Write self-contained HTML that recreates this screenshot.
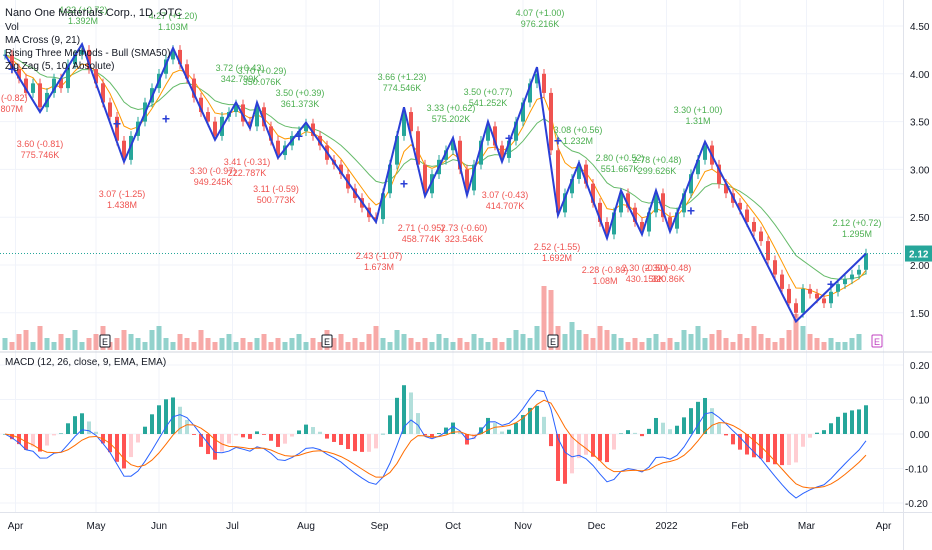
<!DOCTYPE html>
<html><head><meta charset="utf-8">
<style>
html,body{margin:0;padding:0;background:#fff;}
#wrap{position:relative;width:932px;height:550px;overflow:hidden;font-family:"Liberation Sans",sans-serif;}
svg{position:absolute;left:0;top:0;}
.lg{position:absolute;left:5px;font-size:10px;color:#131722;white-space:nowrap;}
</style></head>
<body>
<div id="wrap">
<svg id="svg" width="932" height="550"></svg>
<div class="lg" style="top:7px;font-size:11px">Nano One Materials Corp., 1D, OTC</div>
<div class="lg" style="top:22px">Vol</div>
<div class="lg" style="top:35px">MA Cross (9, 21)</div>
<div class="lg" style="top:48px">Rising Three Methods - Bull (SMA50)</div>
<div class="lg" style="top:61px">Zig Zag (5, 10, Absolute)</div>
<div class="lg" style="top:357px">MACD (12, 26, close, 9, EMA, EMA)</div>
</div>
<script>
const closes=[4.20,4.05,3.95,3.80,3.90,3.65,3.80,3.95,3.85,4.10,4.20,4.25,4.05,3.90,3.70,3.55,3.30,3.10,
3.35,3.50,3.70,3.85,4.00,4.15,4.25,4.10,3.95,3.75,3.60,3.50,3.35,3.55,3.60,3.68,3.50,3.45,3.65,3.45,3.30,3.15,
3.25,3.35,3.40,3.48,3.35,3.25,3.10,3.05,2.95,2.80,2.70,2.60,2.50,2.48,2.75,3.05,3.35,3.60,3.40,3.05,2.75,
2.95,3.10,3.20,3.30,3.00,2.78,3.05,3.30,3.45,3.25,3.12,3.30,3.50,3.70,3.90,4.00,3.80,3.20,2.55,2.75,2.90,3.05,
2.85,2.65,2.45,2.32,2.55,2.75,2.60,2.45,2.35,2.55,2.75,2.50,2.38,2.55,2.75,2.95,3.10,3.25,
3.05,2.85,2.75,2.65,2.58,2.45,2.35,2.25,2.05,1.90,1.75,1.60,1.50,1.75,1.70,1.65,1.60,1.72,1.80,1.85,1.90,1.95,2.12];
const volumes=[3,2,4,5,2,6,3,2,4,3,5,2,3,4,6,2,3,5,4,3,2,5,6,3,2,4,3,2,5,3,2,3,4,2,3,2,3,4,2,3,
2,3,4,2,3,2,5,3,4,2,3,2,4,6,3,2,5,4,3,2,3,2,4,3,2,3,2,4,3,2,3,2,3,5,4,3,6,16,15,6,4,7,5,4,3,
6,5,4,3,2,3,2,3,4,2,3,2,5,4,6,3,4,5,3,2,4,3,6,4,3,2,3,5,9,6,4,3,2,3,2,2,3,4];
const zzIdx=[0,5,11,17,24,30,33,35,36,39,43,53,57,60,64,66,69,71,76,79,82,86,88,91,93,95,100,113,123];
const zzPrice=[4.20,3.60,4.31,3.08,4.27,3.31,3.70,3.43,3.70,3.12,3.49,2.45,3.65,2.72,3.33,2.73,3.50,3.08,4.07,2.52,3.07,2.28,2.78,2.32,2.78,2.35,3.29,1.41,2.12];
const priceTicks=["1.50","2.00","2.50","3.00","3.50","4.00","4.50"];
const macdTicks=["-0.20","-0.10","0.00","0.10","0.20"];
const monthLabels=["Apr","May","Jun","Jul","Aug","Sep","Oct","Nov","Dec","2022","Feb","Mar","Apr"];
const monthIdx=[1.5,13,22,32.5,43,53.5,64,74,84.5,94.5,105,114.5,125.5];
const annText=[["4.32 (+0.72)","1.392M",83,5,1],["4.27 (+1.20)","1.103M",173,11,1],["3.72 (+0.43)","342.799K",240,63,1],["3.70 (+0.29)","350.076K",262,66,1],["3.50 (+0.39)","361.373K",300,88,1],["3.66 (+1.23)","774.546K",402,72,1],["3.33 (+0.62)","575.202K",451,103,1],["3.50 (+0.77)","541.252K",488,87,1],["4.07 (+1.00)","976.216K",540,8,1],["3.08 (+0.56)","1.232M",578,125,1],["2.80 (+0.52)","551.667K",620,153,1],["2.78 (+0.48)","299.626K",657,155,1],["3.30 (+1.00)","1.31M",698,105,1],["2.12 (+0.72)","1.295M",857,218,1],
["07 (-0.82)","1.807M",8,93,0],["3.60 (-0.81)","775.746K",40,139,0],["3.07 (-1.25)","1.438M",122,189,0],["3.30 (-0.97)","949.245K",213,166,0],["3.41 (-0.31)","222.787K",247,157,0],["3.11 (-0.59)","500.773K",276,184,0],["2.43 (-1.07)","1.673M",379,251,0],["2.71 (-0.95)","458.774K",421,223,0],["2.73 (-0.60)","323.546K",464,223,0],["3.07 (-0.43)","414.707K",505,190,0],["2.52 (-1.55)","1.692M",557,242,0],["2.28 (-0.80)","1.08M",605,265,0],["2.30 (-0.50)","430.158K",645,263,0],["2.30 (-0.48)","320.86K",668,263,0]];

const NS="http://www.w3.org/2000/svg";
const svg=document.getElementById('svg');
function mk(t,a,p){const e=document.createElementNS(NS,t);for(const k in a)e.setAttribute(k,a[k]);(p||svg).appendChild(e);return e;}
const X=i=>5+7*i;
const Y=p=>265-(p-2)*95.6;
const YM=v=>434-v*345;
const VB=350, VS=4.0;
const GREEN="#26a69a",RED="#ef5350";

priceTicks.forEach(t=>{const l=mk('line',{x1:0,x2:903,y1:Y(+t),y2:Y(+t),stroke:'#f0f3fa'});
});
macdTicks.forEach(t=>{const l=mk('line',{x1:0,x2:903,y1:YM(+t),y2:YM(+t),stroke:'#f0f3fa'});
});
monthIdx.forEach(m=>{const l=mk('line',{x1:X(m),x2:X(m),y1:0,y2:512,stroke:'#f0f3fa'});
});
mk('line',{x1:0,x2:932,y1:352,y2:352,stroke:'#d1d4dc'});
mk('line',{x1:903.5,x2:903.5,y1:0,y2:550,stroke:'#e0e3eb'});
mk('line',{x1:0,x2:932,y1:512.5,y2:512.5,stroke:'#e0e3eb'});

closes.forEach((c,i)=>{const o=i?closes[i-1]:c;const h=volumes[i]*VS;
const r=mk('rect',{x:X(i)-2.5,y:VB-h,width:5,height:h,fill:c>=o?'rgba(38,166,154,0.5)':'rgba(239,83,80,0.5)'});
});

function ema(a,n){const k=2/(n+1);let r=[];a.forEach((v,i)=>r.push(i?v*k+r[i-1]*(1-k):v));return r;}
const ma1=ema(closes,5),ma2=ema(closes,12);
function line(arr,col,w,yf,name){const p=mk('path',{d:arr.map((v,i)=>(i?'L':'M')+X(i)+','+yf(v)).join(''),fill:'none',stroke:col,'stroke-width':w});
}
line(ma2,'#66bb6a',1,Y,'ma-slow-line');
line(ma1,'#ff9800',1,Y,'ma-fast-line');

closes.forEach((c,i)=>{const o=i?closes[i-1]:c;const col=c>=o?GREEN:RED;
const hi=Math.max(o,c)+0.05,lo=Math.min(o,c)-0.05;
const w=mk('line',{x1:X(i),x2:X(i),y1:Y(hi),y2:Y(lo),stroke:col});

const top=Y(Math.max(o,c)),bh=Math.max(1,Math.abs(Y(o)-Y(c)));
const r=mk('rect',{x:X(i)-2,y:top,width:4,height:bh,fill:col});
});

const zz=mk('path',{d:zzIdx.map((ix,k)=>(k?'L':'M')+X(ix)+','+Y(zzPrice[k])).join(''),fill:'none',stroke:'#2a3fd6','stroke-width':2});


mk('line',{x1:0,x2:903,y1:Y(closes[closes.length-1]),y2:Y(closes[closes.length-1]),stroke:GREEN,'stroke-dasharray':'1,2'});

annText.forEach(a=>{const col=a[4]?'#4caf50':'#ef5350';
[a[0],a[1]].forEach((s,j)=>{const t=mk('text',{x:a[2],y:a[3]+8+j*11,'text-anchor':'middle','font-size':9,fill:col});t.textContent=s;
});});

[[1,Y(4.05)],[16,Y(3.48)],[23,Y(3.53)],[42,Y(3.35)],[57,Y(2.85)],[72,Y(3.33)],[79,Y(3.3)],[98,Y(2.57)],[118,Y(1.8)]].forEach(m=>{
const t=mk('text',{x:X(m[0]),y:m[1]+5,'text-anchor':'middle','font-size':14,'font-weight':'bold',fill:'#2a3fd6'});t.textContent='+';
});
[[105,'#131722'],[327,'#131722'],[553,'#131722'],[877,'#c040c0']].forEach(e=>{
const g=mk('g',{});
mk('rect',{x:e[0]-5,y:335,width:10,height:12,fill:'#fff',stroke:e[1],rx:1},g);
const t=mk('text',{x:e[0],y:345,'text-anchor':'middle','font-size':9,fill:e[1]},g);t.textContent='E';});

// MACD
const e12=ema(closes,7),e26=ema(closes,15);
const macd=e12.map((v,i)=>v-e26[i]);const sig=ema(macd,5);
const mScale=0.6;
macd.forEach((v,i)=>{const h=(v-sig[i])*mScale*2.0;const prev=i?(macd[i-1]-sig[i-1])*mScale*2.0:h;
let col=h>=0?(h>=prev?'#26a69a':'#b2dfdb'):(h<prev?'#ff5252':'#ffcdd2');
const y0=YM(0),y1=YM(h);
const r=mk('rect',{x:X(i)-2,y:Math.min(y0,y1),width:4,height:Math.max(0.5,Math.abs(y1-y0)),fill:col});
});
line(macd.map(v=>v*mScale),'#2962ff',1,YM,'macd-line');
line(sig.map(v=>v*mScale),'#ff6d00',1,YM,'signal-line');

priceTicks.forEach(t=>{const e=mk('text',{x:910,y:Y(+t)+4,'font-size':10,fill:'#131722'});e.textContent=t;
});
macdTicks.forEach(t=>{const e=mk('text',{x:t[0]=='-'?905:910,y:YM(+t)+4,'font-size':10,fill:'#131722'});e.textContent=t;
});
monthLabels.forEach((m,k)=>{const e=mk('text',{x:X(monthIdx[k]),y:529,'text-anchor':'middle','font-size':10,fill:'#131722'});e.textContent=m;
});
const lp=closes[closes.length-1];
const bg=mk('rect',{x:905,y:Y(lp)-8,width:27,height:16,fill:GREEN});

const lt=mk('text',{x:909,y:Y(lp)+4,'font-size':10,'font-weight':'bold',fill:'#fff'});lt.textContent=lp.toFixed(2);


</script>
</body></html>
